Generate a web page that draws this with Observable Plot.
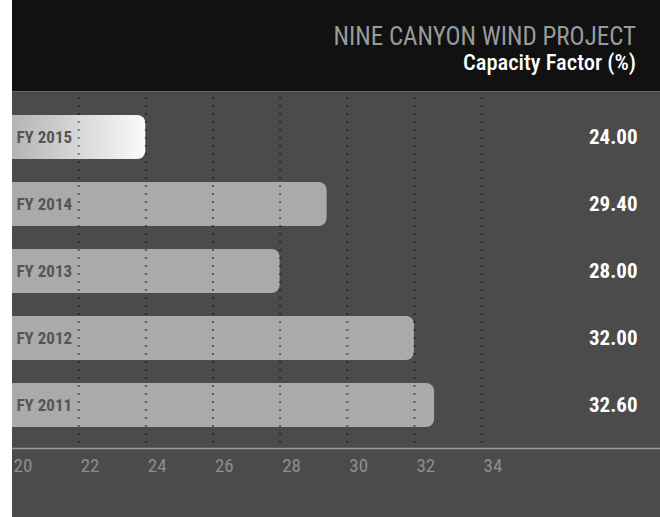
<!DOCTYPE html>
<html>
<head>
<meta charset="utf-8">
<script src="https://cdn.jsdelivr.net/npm/d3@7"></script>
<script src="https://cdn.jsdelivr.net/npm/@observablehq/plot@0.6"></script>
<style>
  html, body { margin: 0; padding: 0; background: #ffffff; }
  #wrap { margin-left: 12px; width: 648px; font-family: "Roboto Condensed", "Roboto", sans-serif; font-stretch: condensed; }
  #header { height: 91px; background: #111111; border-bottom: 1px solid #666666; position: relative; }
  #title { position: absolute; right: 24px; top: 24px; color: #9a9a9a; font-size: 25px; line-height: 25px; white-space: nowrap; }
  #subtitle { position: absolute; right: 24px; top: 51px; color: #ffffff; font-size: 22.5px; font-weight: 500; line-height: 22px; white-space: nowrap; }
  #chart svg { display: block; font-stretch: condensed; }
</style>
</head>
<body>
<div id="wrap">
  <div id="header">
    <div id="title">NINE CANYON WIND PROJECT</div>
    <div id="subtitle">Capacity Factor (%)</div>
  </div>
  <div id="chart"></div>
</div>
<script>
const categories = ["FY 2015", "FY 2014", "FY 2013", "FY 2012", "FY 2011"];
const values = [24.00, 29.40, 28.00, 32.00, 32.60];
const labels = ["24.00", "29.40", "28.00", "32.00", "32.60"];
const axisTicks = [20, 22, 24, 26, 28, 30, 32, 34];
const gridTicks = [22, 24, 26, 28, 30, 32, 34];

const data = categories.map((c, i) => ({category: c, value: values[i], label: labels[i], highlight: i === 0}));

const font = '"Roboto Condensed", "Roboto", sans-serif';

const defs = () => {
  const d = d3.create("svg:defs");
  const g = d.append("linearGradient").attr("id", "hl").attr("x1", "0").attr("x2", "1").attr("y1", "0").attr("y2", "0");
  g.append("stop").attr("offset", "0.2").attr("stop-color", "#a6a6a6");
  g.append("stop").attr("offset", "1").attr("stop-color", "#fafafa");
  return d.node();
};

const chart = Plot.plot({
  width: 648,
  height: 425,
  marginLeft: 0,
  marginRight: 0,
  marginTop: 5,
  marginBottom: 72,
  style: {background: "#4b4b4b", fontFamily: font, fontSize: "19px", overflow: "hidden"},
  x: {domain: [20, 40], range: [-1, 670.6], ticks: axisTicks, label: null},
  y: {domain: categories, range: [11.5, 346.5], paddingInner: 0.343, paddingOuter: 0.1715, axis: null},
  marks: [
    defs,
    Plot.barX(data, {
      y: "category",
      x1: () => 18,
      x2: "value",
      fill: d => d.highlight ? "url(#hl)" : "#aaaaaa",
      rx: 8,
      clip: "frame"
    }),
    Plot.gridX(gridTicks, {stroke: "#000000", strokeOpacity: 0.45, strokeWidth: 2, strokeDasharray: "2,6", strokeLinecap: "butt"}),
    Plot.frame({anchor: "bottom", stroke: "#9a9a9a", strokeWidth: 1.5, dy: 3}),
    Plot.axisX(axisTicks, {tickSize: 0, tickPadding: 13, textAnchor: "start", dx: 2, fill: "#8e8e8e", fontSize: 19, label: null, tickFormat: d => String(d)}),
    Plot.text(data, {y: "category", text: "category", frameAnchor: "left", dx: 4, textAnchor: "start", fill: "#555555", fontSize: 17, fontWeight: "bold"}),
    Plot.text(data, {y: "category", text: "label", frameAnchor: "right", dx: -23, textAnchor: "end", fill: "#ffffff", fontSize: 21, fontWeight: "bold"})
  ]
});
document.getElementById("chart").appendChild(chart);
</script>
</body>
</html>
